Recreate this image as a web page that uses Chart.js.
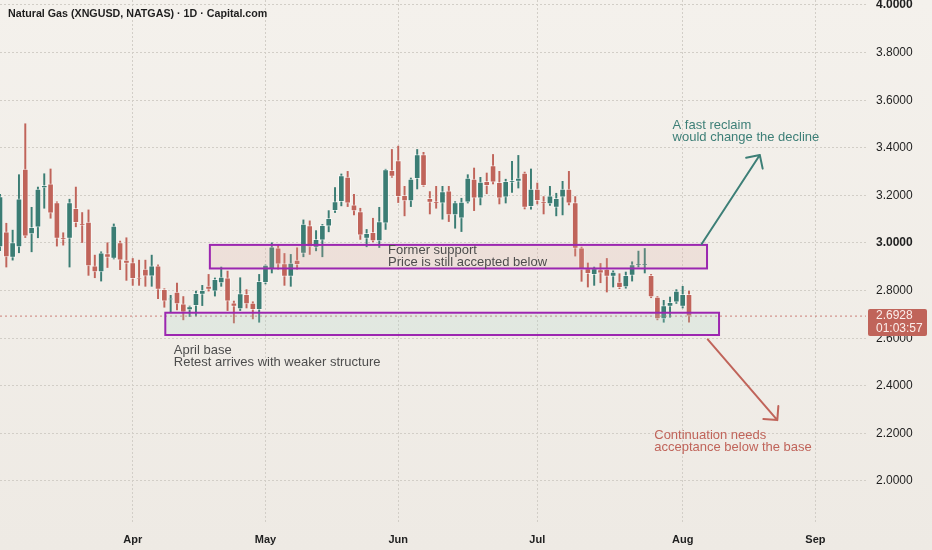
<!DOCTYPE html>
<html>
<head>
<meta charset="utf-8">
<script src="https://cdn.jsdelivr.net/npm/chart.js@4.4.1/dist/chart.umd.min.js"></script>
<style>
    html, body { margin: 0; padding: 0; }
    body { width: 932px; height: 550px; overflow: hidden; background: linear-gradient(#f4f1ec, #eeeae4); }
</style>
</head>
<body>
<canvas id="chartGas" width="932" height="550"></canvas>
<script>
// Daily candles (one value per trading day)
const opens = [2.984,3.047,2.939,2.984,3.311,3.038,3.066,3.231,3.249,3.170,
    3.022,3.019,3.146,3.080,3.088,2.904,2.878,2.956,2.935,3.002,
    2.928,2.918,2.854,2.890,2.861,2.904,2.805,2.763,2.794,2.744,
    2.719,2.737,2.784,2.819,2.798,2.832,2.854,2.749,2.723,2.784,
    2.748,2.720,2.833,2.892,2.980,2.914,2.860,2.928,2.956,3.073,
    2.981,3.012,3.071,3.136,3.174,3.277,3.160,3.132,3.019,3.045,
    3.009,3.083,3.305,3.346,3.200,3.177,3.270,3.372,3.188,3.174,
    3.167,3.219,3.118,3.104,3.172,3.269,3.188,3.259,3.325,3.255,
    3.193,3.255,3.259,3.294,3.153,3.227,3.174,3.164,3.150,3.193,
    3.227,3.170,2.980,2.892,2.867,2.888,2.890,2.860,2.836,2.815,
    2.864,2.907,2.908,2.864,2.773,2.681,2.734,2.751,2.733,2.784];
const highs = [3.205,3.083,3.054,3.287,3.501,3.150,3.235,3.291,3.311,3.173,
    3.043,3.184,3.235,3.128,3.139,2.949,2.963,3.001,3.080,3.008,
    3.022,2.935,2.928,2.928,2.949,2.908,2.808,2.780,2.832,2.775,
    2.735,2.798,2.822,2.868,2.853,2.899,2.882,2.756,2.854,2.804,
    2.753,2.868,2.908,3.001,2.994,2.956,2.952,2.980,3.097,3.093,
    3.052,3.078,3.136,3.233,3.290,3.301,3.205,3.146,3.057,3.104,
    3.150,3.310,3.393,3.407,3.238,3.273,3.393,3.381,3.216,3.238,
    3.238,3.238,3.174,3.188,3.287,3.315,3.276,3.294,3.372,3.301,
    3.268,3.343,3.368,3.298,3.311,3.252,3.195,3.238,3.209,3.259,
    3.301,3.195,2.983,2.916,2.899,2.914,2.935,2.883,2.871,2.878,
    2.921,2.966,2.977,2.868,2.775,2.759,2.773,2.804,2.818,2.798];
const lows = [2.968,2.899,2.928,2.959,3.023,2.963,3.022,3.146,3.104,2.987,
    2.991,2.899,3.068,3.002,2.864,2.854,2.840,2.897,2.933,2.888,
    2.843,2.822,2.822,2.818,2.818,2.766,2.730,2.709,2.719,2.677,
    2.691,2.693,2.737,2.798,2.777,2.818,2.716,2.664,2.716,2.727,
    2.681,2.667,2.828,2.874,2.890,2.822,2.818,2.890,2.942,2.952,
    2.967,2.942,3.047,3.128,3.156,3.153,3.118,3.015,2.984,3.005,
    2.981,3.057,3.276,3.170,3.114,3.153,3.227,3.238,3.122,3.146,
    3.100,3.090,3.062,3.048,3.168,3.136,3.160,3.207,3.248,3.164,
    3.168,3.212,3.231,3.143,3.142,3.164,3.122,3.158,3.114,3.118,
    3.160,2.945,2.839,2.815,2.822,2.833,2.794,2.815,2.808,2.810,
    2.840,2.899,2.874,2.770,2.677,2.667,2.688,2.746,2.727,2.667];
const closes = [3.195,2.942,3.002,3.186,3.029,3.066,3.227,3.242,3.125,3.019,
    3.015,3.170,3.085,3.074,2.904,2.878,2.959,2.939,3.071,2.928,
    2.914,2.850,2.850,2.861,2.904,2.805,2.756,2.766,2.744,2.709,
    2.733,2.789,2.801,2.805,2.847,2.857,2.756,2.734,2.787,2.744,
    2.720,2.839,2.907,2.984,2.911,2.860,2.916,2.909,3.080,2.984,
    3.015,3.074,3.104,3.174,3.283,3.167,3.135,3.033,3.041,3.009,
    3.090,3.308,3.280,3.195,3.177,3.269,3.372,3.241,3.170,3.168,
    3.216,3.118,3.170,3.172,3.273,3.188,3.256,3.241,3.256,3.188,
    3.259,3.263,3.273,3.150,3.227,3.178,3.167,3.198,3.188,3.227,
    3.167,2.977,2.888,2.871,2.892,2.873,2.860,2.878,2.812,2.864,
    2.909,2.911,2.910,2.773,2.681,2.737,2.751,2.798,2.784,2.6928];

// Time axis: first bar of each month
const months = ['Apr', 'May', 'Jun', 'Jul', 'Aug', 'Sep'];
const monthStartBar = [21, 42, 63, 85, 108, 129];

// Price axis
const priceTicks = [2.0, 2.2, 2.4, 2.6, 2.8, 3.0, 3.2, 3.4, 3.6, 3.8, 4.0];
const boldTicks = [3.0, 4.0];
const lastPrice = 2.6928;
const countdown = '01:03:57';

// Drawings (bar index / price coordinates)
const zones = [
    { from: 33.2, to: 111.85, top: 2.992, bottom: 2.893, fill: 'rgba(226, 172, 160, 0.2)' },
    { from: 26.15, to: 113.75, top: 2.707, bottom: 2.6134, fill: 'rgba(175, 212, 202, 0.22)' }
];
const notes = [
    { x: 61.4, y: [2.9706, 2.920], lines: ['Former support', 'Price is still accepted below'], color: '#4d4d4d' },
    { x: 27.5, y: [2.5504, 2.497], lines: ['April base', 'Retest arrives with weaker structure'], color: '#4d4d4d' },
    { x: 106.4, y: [3.4958, 3.445], lines: ['A fast reclaim', 'would change the decline'], color: '#3d7f77' },
    { x: 103.5, y: [2.1933, 2.1416], lines: ['Continuation needs', 'acceptance below the base'], color: '#c0645a' }
];
const arrows = [
    { from: [111.0, 2.996], to: [120.2, 3.370], color: '#3d7f77' },
    { from: [111.96, 2.595], to: [122.97, 2.256], color: '#c0645a' }
];

const UP = '#3b7d74';
const DOWN = '#c0645a';
const FONT = "'Liberation Sans', Arial, sans-serif";
const GRID = '#d2cec7';

const barIndex = opens.map((_, i) => i);
const isUp = barIndex.map(i => closes[i] >= opens[i]);

const overlays = {
    id: 'overlays',
    afterDatasetsDraw(chart) {
        const { ctx, chartArea } = chart;
        const x = chart.scales.x, y = chart.scales.y;
        ctx.save();

        // last price line
        const py = y.getPixelForValue(lastPrice);
        ctx.strokeStyle = 'rgba(192, 100, 90, 0.8)';
        ctx.lineWidth = 1;
        ctx.setLineDash([2, 3]);
        ctx.beginPath();
        ctx.moveTo(chartArea.left, py);
        ctx.lineTo(chartArea.right, py);
        ctx.stroke();
        ctx.setLineDash([]);

        // rectangles
        zones.forEach(z => {
            const x0 = x.getPixelForValue(z.from), x1 = x.getPixelForValue(z.to);
            const y0 = y.getPixelForValue(z.top), y1 = y.getPixelForValue(z.bottom);
            ctx.fillStyle = z.fill;
            ctx.fillRect(x0, y0, x1 - x0, y1 - y0);
            ctx.strokeStyle = '#9c27b0';
            ctx.lineWidth = 2;
            ctx.strokeRect(x0, y0, x1 - x0, y1 - y0);
        });

        // arrows
        arrows.forEach(a => {
            const x0 = x.getPixelForValue(a.from[0]), y0 = y.getPixelForValue(a.from[1]);
            const x1 = x.getPixelForValue(a.to[0]), y1 = y.getPixelForValue(a.to[1]);
            const ang = Math.atan2(y1 - y0, x1 - x0);
            ctx.strokeStyle = a.color;
            ctx.lineWidth = 2;
            ctx.lineCap = 'round';
            ctx.beginPath();
            ctx.moveTo(x0, y0);
            ctx.lineTo(x1, y1);
            [-1, 1].forEach(s => {
                ctx.moveTo(x1, y1);
                ctx.lineTo(x1 - 14 * Math.cos(ang + s * Math.PI / 4), y1 - 14 * Math.sin(ang + s * Math.PI / 4));
            });
            ctx.stroke();
        });

        // text notes
        ctx.font = '13px ' + FONT;
        ctx.textBaseline = 'middle';
        ctx.textAlign = 'left';
        notes.forEach(n => {
            ctx.fillStyle = n.color;
            n.lines.forEach((t, i) => {
                ctx.fillText(t, x.getPixelForValue(n.x), y.getPixelForValue(n.y[i]));
            });
        });
        ctx.restore();
    },
    afterDraw(chart) {
        const { ctx, chartArea } = chart;
        const y = chart.scales.y;
        ctx.save();

        // last price tag on the axis
        const py = y.getPixelForValue(lastPrice);
        ctx.fillStyle = DOWN;
        ctx.beginPath();
        ctx.roundRect(chartArea.right + 2, py - 7, 59, 27, 2);
        ctx.fill();
        ctx.fillStyle = '#fbeeeb';
        ctx.font = '12px ' + FONT;
        ctx.textBaseline = 'middle';
        ctx.fillText(lastPrice.toFixed(4), chartArea.right + 10, py);
        ctx.fillText(countdown, chartArea.right + 10, py + 12.5);

        // title
        ctx.fillStyle = '#1e1e1e';
        ctx.font = 'bold 10.7px ' + FONT;
        ctx.fillText('Natural Gas (XNGUSD, NATGAS) \u00b7 1D \u00b7 Capital.com', 8, 14.5);
        ctx.restore();
    }
};

new Chart(document.getElementById('chartGas'), {
    type: 'bar',
    data: {
        datasets: [
            {
                label: 'Body',
                data: barIndex.map(i => ({ x: i, y: [opens[i], closes[i]] })),
                backgroundColor: isUp.map(u => u ? UP : DOWN),
                borderColor: 'rgba(255, 255, 255, 0.55)',
                borderWidth: 1,
                borderSkipped: false,
                barThickness: 6,
                grouped: false
            },
            {
                label: 'Wick',
                data: barIndex.map(i => ({ x: i, y: [lows[i], highs[i]] })),
                backgroundColor: isUp.map(u => u ? UP : DOWN),
                barThickness: 1.3,
                grouped: false
            }
        ]
    },
    options: {
        responsive: false,
        animation: false,
        layout: { padding: 0 },
        plugins: {
            legend: { display: false },
            tooltip: { enabled: false }
        },
        scales: {
            x: {
                type: 'linear',
                min: 0,
                max: 137,
                offset: false,
                afterBuildTicks: s => { s.ticks = monthStartBar.map(v => ({ value: v })); },
                afterFit: s => { s.height = 27; s.paddingLeft = 0; s.paddingRight = 0; },
                grid: { color: GRID, drawTicks: false, offset: false },
                border: { display: false, dash: [2, 2] },
                ticks: {
                    padding: 10,
                    color: '#1f1f1f',
                    maxRotation: 0,
                    autoSkip: false,
                    font: { family: FONT, size: 11, weight: 'bold' },
                    callback: v => months[monthStartBar.indexOf(v)]
                }
            },
            y: {
                position: 'right',
                min: 1.8235,
                max: 4.021,
                beginAtZero: false,
                afterBuildTicks: s => { s.ticks = priceTicks.map(v => ({ value: v })); },
                afterFit: s => { s.width = 66; s.paddingTop = 0; s.paddingBottom = 0; },
                grid: { color: GRID, drawTicks: false },
                border: { display: false, dash: [2, 2] },
                ticks: {
                    padding: 10,
                    color: '#1f1f1f',
                    font: ctx => ({
                        family: FONT,
                        size: 12,
                        weight: ctx.tick && boldTicks.includes(ctx.tick.value) ? 'bold' : 'normal'
                    }),
                    callback: v => v.toFixed(4)
                }
            }
        }
    },
    plugins: [overlays]
});
</script>
</body>
</html>
